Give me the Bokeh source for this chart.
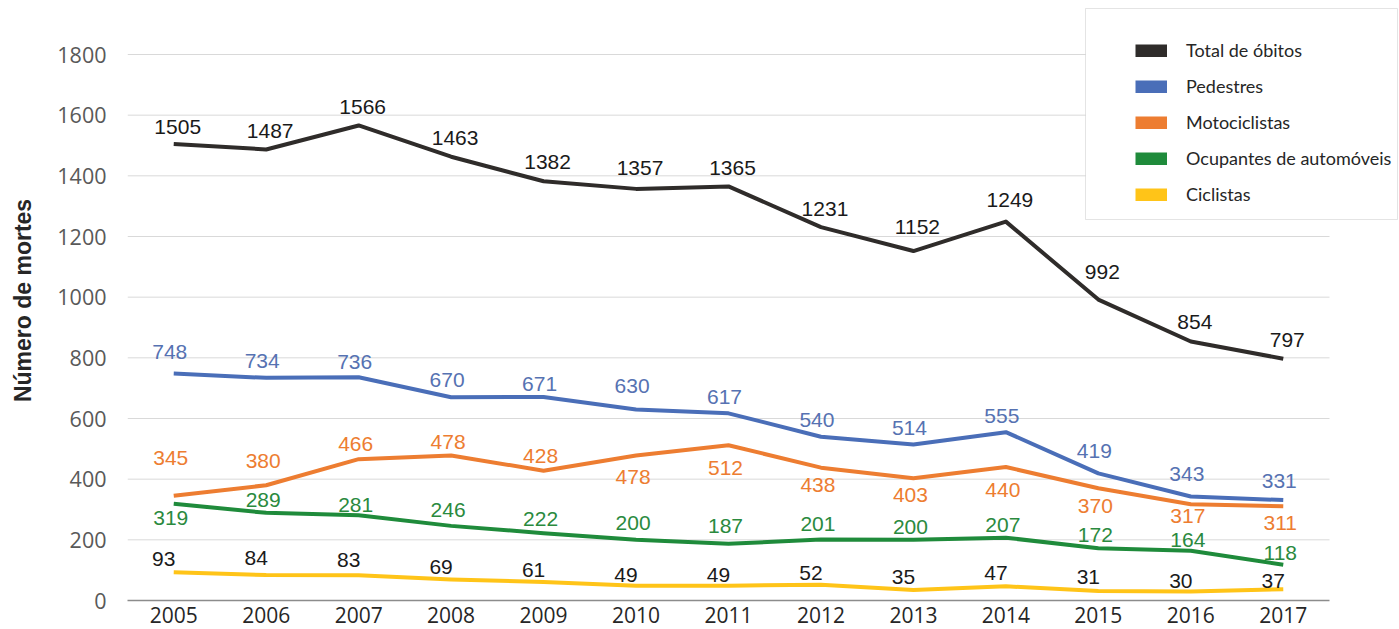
from bokeh.plotting import figure
from bokeh.models import (ColumnDataSource, Range1d, Legend, LegendItem,
                          BoxAnnotation, FixedTicker)
from bokeh.core.properties import value
from bokeh.embed import file_html
from bokeh.resources import INLINE

# ---------------- data ----------------
years = ["2005", "2006", "2007", "2008", "2009", "2010", "2011",
         "2012", "2013", "2014", "2015", "2016", "2017"]
total = [1505, 1487, 1566, 1463, 1382, 1357, 1365, 1231, 1152, 1249, 992, 854, 797]
pedestres = [748, 734, 736, 670, 671, 630, 617, 540, 514, 555, 419, 343, 331]
motociclistas = [345, 380, 466, 478, 428, 478, 512, 438, 403, 440, 370, 317, 311]
ocupantes = [319, 289, 281, 246, 222, 200, 187, 201, 200, 207, 172, 164, 118]
ciclistas = [93, 84, 83, 69, 61, 49, 49, 52, 35, 47, 31, 30, 37]
y_ticks = [0, 200, 400, 600, 800, 1000, 1200, 1400, 1600, 1800]

# ---------------- label placement (style, px: >0 above point, <0 below) ----------------
gap_total = [10, 11, 11, 12, 12, 14, 11, 11, 17, 15, 21, 12, 12]
gap_ped = [15, 10, 8, 10, 6, 16, 9, 10, 10, 9, 15, 15, 12]
gap_moto = [31, 17, 8, 7, 8, -13, -15, -9, -9, -15, -10, -4, -9]
gap_ocup = [-6, 6, 3, 9, 7, 10, 11, 9, 6, 6, 6, 4, 5]
gap_cicl = [6, 10, 8, 6, 5, 4, 4, 5, 6, 6, 7, 3, 1]

LABEL_SIZE = 21
CAP = 0.716 * LABEL_SIZE
BASE_FIX = -7

series = [
    ("Total de óbitos", total, "#2F2C2A", "#1A1A1A", gap_total, 4),
    ("Pedestres", pedestres, "#4A6EB8", "#5672B2", gap_ped, -4),
    ("Motociclistas", motociclistas, "#ED7D31", "#ED7D31", gap_moto, -3),
    ("Ocupantes de automóveis", ocupantes, "#1F8B3B", "#2A8A3E", gap_ocup, -3),
    ("Ciclistas", ciclistas, "#FFC418", "#1A1A1A", gap_cicl, -10),
]

# layout: plotting area of 13 categories is 1202 px wide, 1800 units are 546 px tall
W, H = 1399, 629
LEFT, BOTTOM = 127, 29
FRAME_W, FRAME_H = W - LEFT, H - BOTTOM
cat_px = 1202 / len(years)
x_lo = -0.5
x_hi = x_lo + FRAME_W / cat_px
y_hi = FRAME_H * 1800 / 546

xs = list(range(len(years)))

p = figure(x_range=Range1d(x_lo, x_hi), y_range=Range1d(0, y_hi),
           frame_width=FRAME_W, frame_height=FRAME_H,
           min_border_left=LEFT, min_border_right=0, min_border_top=0,
           min_border_bottom=BOTTOM,
           output_backend="svg", toolbar_location=None,
           background_fill_color="white", border_fill_color="white",
           outline_line_color=None)

p.xgrid.grid_line_color = None
p.ygrid.grid_line_color = None
# horizontal gridlines, only across the category area
p.segment(x0=[x_lo] * (len(y_ticks) - 1), x1=[len(years) - 0.5] * (len(y_ticks) - 1),
          y0=y_ticks[1:], y1=y_ticks[1:], line_color="#D9D9D9", line_width=1)

p.yaxis.ticker = FixedTicker(ticks=y_ticks)
p.yaxis.axis_line_color = None
p.yaxis.major_tick_line_color = None
p.yaxis.minor_tick_line_color = None
p.yaxis.major_label_text_font = "Open Sans"
p.yaxis.major_label_text_font_size = "21.5px"
p.yaxis.major_label_text_color = "#595959"
p.yaxis.major_label_standoff = 15
p.yaxis.axis_label = "Número de mortes"
p.yaxis.axis_label_text_font = "Liberation Sans"
p.yaxis.axis_label_text_font_style = "bold"
p.yaxis.axis_label_text_font_size = "23px"
p.yaxis.axis_label_text_color = "#262626"
p.yaxis.axis_label_standoff = 18

p.xaxis.ticker = FixedTicker(ticks=xs)
p.xaxis.major_label_overrides = {i: y for i, y in zip(xs, years)}
p.xaxis.bounds = (x_lo, len(years) - 0.5)
p.xaxis.axis_line_color = "#8C8C8C"
p.xaxis.axis_line_width = 1.3
p.xaxis.major_tick_line_color = None
p.xaxis.minor_tick_line_color = None
p.xaxis.major_label_text_font = "Open Sans"
p.xaxis.major_label_text_font_size = "21px"
p.xaxis.major_label_text_color = "#262626"
p.xaxis.major_label_standoff = 0

legend_items = []
for name, vals, lc, tc, gaps, xo in series:
    p.line(x=xs, y=vals, line_width=4, line_color=lc, line_join="round")
    yoff = [(-g if g > 0 else (-g) + CAP) + BASE_FIX for g in gaps]
    src = ColumnDataSource(dict(x=xs, y=vals, t=[str(v) for v in vals],
                                yo=yoff, xo=[xo] * len(vals)))
    p.text(x="x", y="y", text="t", x_offset="xo", y_offset="yo", source=src,
           text_font=value("Liberation Sans"), text_font_size=f"{LABEL_SIZE}px",
           text_color=tc, text_align="center", text_baseline="alphabetic")
    proxy = p.line(x=[0], y=[float("nan")], line_width=13, line_color=lc)
    legend_items.append(LegendItem(label=name, renderers=[proxy]))

box = BoxAnnotation(left=958, right=1270, top=592, bottom=381,
                    left_units="screen", right_units="screen",
                    top_units="screen", bottom_units="screen",
                    fill_color="white", fill_alpha=1.0,
                    line_color="#A6A6A6", line_width=1)
p.add_layout(box)

legend = Legend(items=legend_items, location=(1008, 389), orientation="vertical",
                padding=0, margin=0, spacing=2, label_height=34,
                glyph_width=32, glyph_height=13, label_standoff=19,
                label_text_font="Lato", label_text_font_size="18px",
                label_text_color="#262626", label_text_baseline="middle",
                border_line_alpha=0, background_fill_alpha=0)
p.add_layout(legend)

open("out.html", "w").write(file_html(p, INLINE))
